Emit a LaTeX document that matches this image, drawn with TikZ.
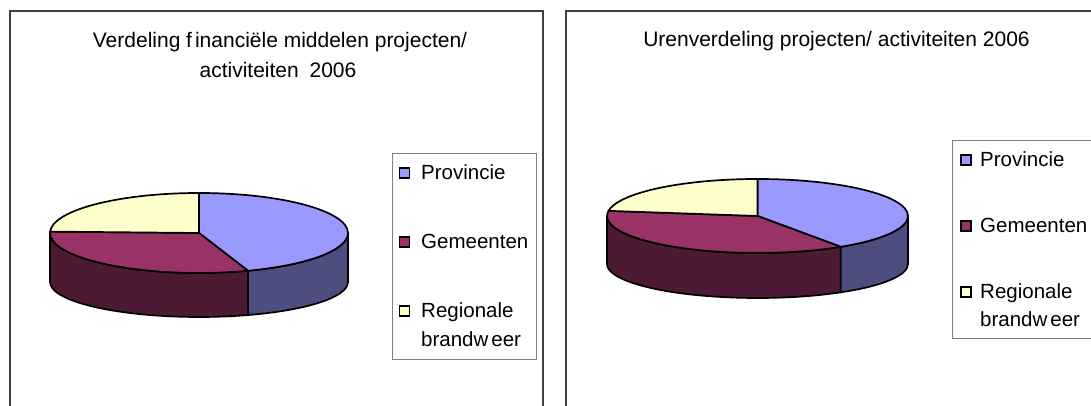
\documentclass[tikz,border=0pt]{standalone}
\usepackage{fontspec}
\setmainfont{Liberation Sans}
\definecolor{provtop}{HTML}{9999FF}
\definecolor{provside}{HTML}{4D4D80}
\definecolor{gemtop}{HTML}{993366}
\definecolor{gemside}{HTML}{4C1A33}
\definecolor{regtop}{HTML}{FFFFCC}
\definecolor{framegray}{HTML}{404040}
\definecolor{leggray}{HTML}{808080}
% #1 cx, #2 cy (top), #3 rx, #4 ry (top), #5 cy (bottom), #6 ry (bottom),
% #7 provincie/gemeenten boundary angle (180..360), #8 gemeenten/regionale boundary angle (90..180)
\newcommand\drawpie[8]{%
  \filldraw[pieline,fill=gemside] ({#1-#3},{#2})
    arc[start angle=180,end angle=#7,x radius=#3pt,y radius=#4pt]
    -- ({#1+#3*cos(#7)},{#5+#6*sin(#7)})
    arc[start angle=#7,end angle=180,x radius=#3pt,y radius=#6pt] -- cycle;
  \filldraw[pieline,fill=provside] ({#1+#3*cos(#7)},{#2+#4*sin(#7)})
    arc[start angle=#7,end angle=360,x radius=#3pt,y radius=#4pt]
    -- ({#1+#3},{#5})
    arc[start angle=360,end angle=#7,x radius=#3pt,y radius=#6pt] -- cycle;
  \filldraw[pieline,fill=provtop] (#1,#2) -- (#1,{#2+#4})
    arc[start angle=450,end angle=#7,x radius=#3pt,y radius=#4pt] -- cycle;
  \filldraw[pieline,fill=gemtop] (#1,#2) -- ({#1+#3*cos(#7)},{#2+#4*sin(#7)})
    arc[start angle=#7,end angle=#8,x radius=#3pt,y radius=#4pt] -- cycle;
  \filldraw[pieline,fill=regtop] (#1,#2) -- ({#1+#3*cos(#8)},{#2+#4*sin(#8)})
    arc[start angle=#8,end angle=90,x radius=#3pt,y radius=#4pt] -- cycle;
}
\begin{document}
\begin{tikzpicture}[x=1pt,y=1pt,
  pieline/.style={draw=black,line width=1.7pt,line join=round},
  panel/.style={draw=framegray,line width=1.4pt},
  legbox/.style={draw=leggray,line width=0.9pt},
  swatch/.style={draw=black,line width=1.2pt,minimum size=10pt,inner sep=0pt},
  ttl/.style={font=\fontsize{21}{25}\selectfont,inner sep=0pt,anchor=base},
  legtxt/.style={font=\fontsize{20.5}{25}\selectfont,inner sep=0pt,anchor=base west}]
\clip (0,0) rectangle (1091,406);
\fill[white] (0,0) rectangle (1091,406);
% panels
\draw[panel] (10,-5) -- (10,395) -- (543,395) -- (543,-5);
\draw[panel] (566,-5) -- (566,395) -- (1100,395);
% titles
\node[ttl] (t1a) at (280,358) {Verdeling f\kern3pt inanciële middelen projecten/};
\node[ttl] (t1b) at (278,328) {activiteiten\hspace{5pt} 2006};
\node[ttl] (t2) at (836.5,359) {Urenverdeling projecten/ activiteiten 2006};
% pies
\drawpie{199}{173}{149}{40}{124}{35}{289.2}{178}
\drawpie{757.5}{190}{150.5}{37}{142}{34}{303.6}{172}
% legend left
\draw[legbox] (392,253) rectangle (536,47);
\node[swatch,fill=provtop] (l1s) at (404.5,233) {};
\node[legtxt] (l1) at (421,226) {Provincie};
\node[swatch,fill=gemtop] (l2s) at (404.5,164) {};
\node[legtxt] (l2) at (421,157) {Gemeenten};
\node[swatch,fill=regtop] (l3s) at (404.5,95) {};
\node[legtxt] (l3) at (421,88) {Regionale};
\node[legtxt] (l3b) at (421,59) {brandw\kern3pt eer};
% legend right
\draw[legbox] (952,266) rectangle (1100,68);
\node[swatch,fill=provtop] (r1s) at (966,246) {};
\node[legtxt] (r1) at (980,239) {Provincie};
\node[swatch,fill=gemtop] (r2s) at (966,180) {};
\node[legtxt] (r2) at (980,173) {Gemeenten};
\node[swatch,fill=regtop] (r3s) at (966,114) {};
\node[legtxt] (r3) at (980,107) {Regionale};
\node[legtxt] (r3b) at (980,79) {brandw\kern3pt eer};
\end{tikzpicture}
\end{document}
